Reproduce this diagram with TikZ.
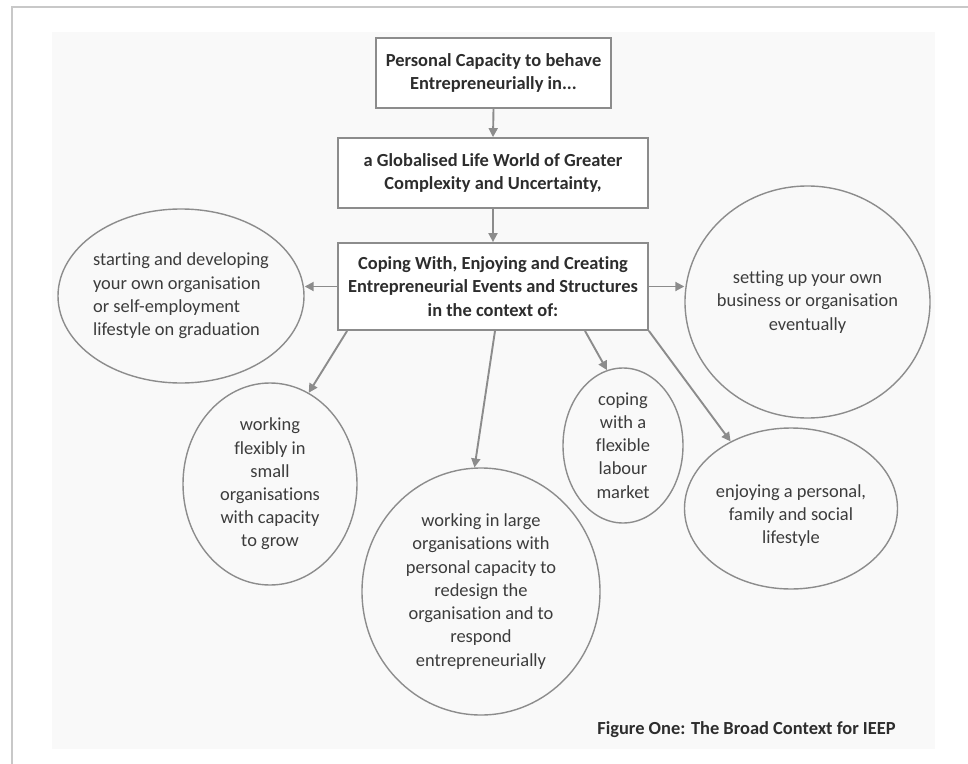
\documentclass[tikz,border=0pt]{standalone}
\usepackage{fontspec}
\setmainfont{Carlito}[Ligatures=NoCommon]
\usetikzlibrary{shapes.geometric,arrows.meta}

\definecolor{linegray}{RGB}{140,140,140}
\definecolor{framegray}{RGB}{200,200,200}
\definecolor{panelgray}{RGB}{249,249,249}
\definecolor{textgray}{RGB}{45,45,45}
\definecolor{softtext}{RGB}{60,60,60}

\tikzset{
  stagebox/.style={draw=linegray, line width=1.8bp, fill=white, rectangle,
    inner sep=0pt, align=center, text=textgray,
    font=\bfseries\fontsize{18.5}{23.3}\selectfont},
  bubble/.style={draw=linegray, line width=1.4bp, ellipse, inner sep=0pt},
  bubbletext/.style={text=softtext, inner sep=0pt,
    font=\fontsize{18.5}{23.3}\selectfont},
  flow/.style={draw=linegray, line width=1.9bp,
    -{Triangle[length=9bp,width=9bp]}},
}

\begin{document}
\begin{tikzpicture}[x=1bp,y=-1bp]
  \useasboundingbox (0,0) rectangle (968,764);
  \fill[white] (0,0) rectangle (968,764);
  % outer frame and shaded panel
  \draw[framegray, line width=1.5bp] (12,764) -- (12,7) -- (968,7);
  \fill[panelgray] (52,32) rectangle (935,749);

  % stacked boxes
  \node[stagebox, minimum width=235bp, minimum height=70bp] (top) at (493.5,73)
    {Personal Capacity to behave\\Entrepreneurially in...};
  \node[stagebox, minimum width=310bp, minimum height=70bp] (world) at (493,173)
    {a Globalised Life World of Greater\\Complexity and Uncertainty,};
  \node[stagebox, minimum width=310bp, minimum height=87bp] (cope) at (493,286.5)
    {Coping With, Enjoying and Creating\\Entrepreneurial Events and Structures\\in the context of:};

  % contexts
  \node[bubble, minimum width=246bp, minimum height=174bp,
    label={[bubbletext, align=left]center:{starting and developing\\your own organisation\\or self-employment\\lifestyle on graduation}}]
    (grad) at (181,296) {};
  \node[bubble, minimum width=174bp, minimum height=202bp,
    label={[bubbletext, align=center]center:{working\\flexibly in\\small\\organisations\\with capacity\\to grow}}]
    (small) at (270,484) {};
  \node[bubble, minimum width=238bp, minimum height=247bp,
    label={[bubbletext, align=center]center:{working in large\\organisations with\\personal capacity to\\redesign the\\organisation and to\\respond\\entrepreneurially}}]
    (large) at (481,591.5) {};
  \node[bubble, minimum width=120bp, minimum height=155bp,
    label={[bubbletext, align=center]center:{coping\\with a\\flexible\\labour\\market}}]
    (labour) at (623,445.5) {};
  \node[bubble, minimum width=213bp, minimum height=161bp,
    label={[bubbletext, align=center, yshift=-7bp]center:{enjoying a personal,\\family and social\\lifestyle}}]
    (life) at (791,508.5) {};
  \node[bubble, minimum width=245bp, minimum height=232bp,
    label={[bubbletext, align=center]center:{setting up your own\\business or organisation\\eventually}}]
    (own) at (807.5,302) {};

  % connectors
  \draw[flow] (top.south) -- (world.north);
  \draw[flow] (world.south) -- (cope.north);
  \draw[flow] (cope.west) -- (cope.west -| grad.east);
  \draw[flow] (cope.east) -- (cope.east -| own.west);
  \draw[flow] ([xshift=10bp]cope.south west) -- (small.67);
  \draw[flow] ([xshift=2bp]cope.south) -- (large.93);
  \draw[flow] ([xshift=92bp]cope.south) -- (labour.102);
  \draw[flow] (cope.south east) -- (life.132);

  % caption
  \node[text=textgray, inner sep=0pt, font=\bfseries\fontsize{18.5}{22}\selectfont]
    (caption) at (746.5,730) {Figure One: The Broad Context for IEEP};
\end{tikzpicture}
\end{document}
